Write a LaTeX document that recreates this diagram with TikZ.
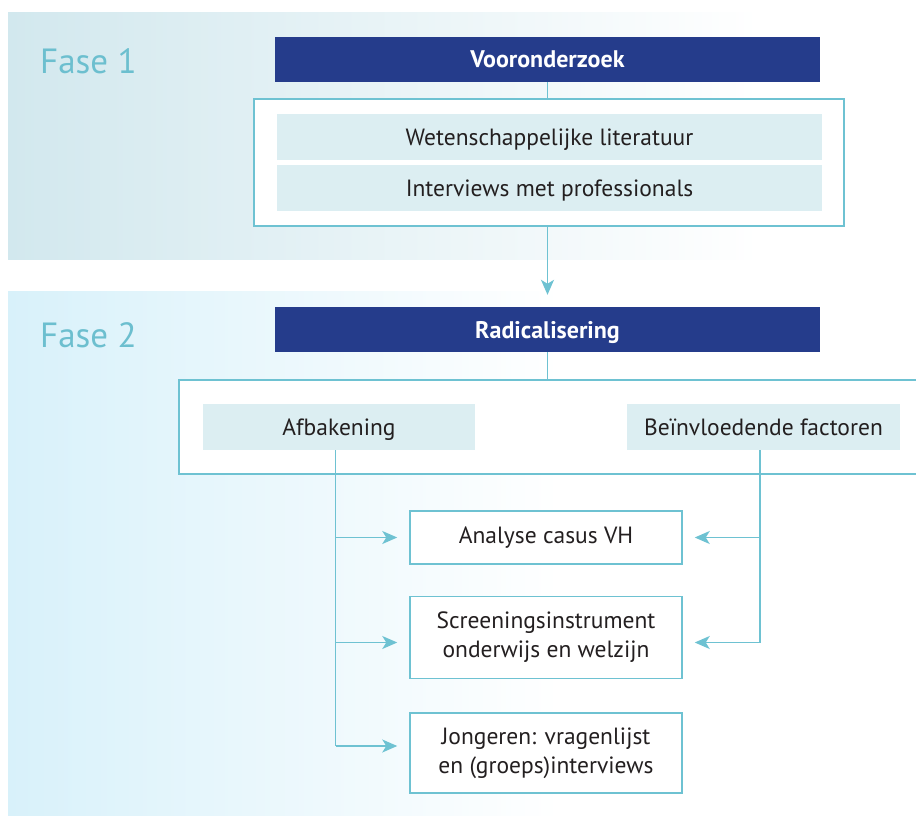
\documentclass[tikz,border=0pt]{standalone}
\usepackage{fontspec}
\setmainfont{PT Sans}
\usetikzlibrary{positioning,arrows.meta}

\definecolor{fasedonker}{RGB}{37,60,139}
\definecolor{faselicht}{RGB}{220,238,242}
\definecolor{faselijn}{RGB}{110,194,210}
\definecolor{fasetekst}{RGB}{108,191,207}
\definecolor{fase1bg}{RGB}{210,232,238}
\definecolor{fase2bg}{RGB}{216,241,250}
\definecolor{tekst}{RGB}{35,31,32}

\tikzset{
  fase/.style={text=fasetekst, font=\fontsize{35}{40}\selectfont, anchor=base west, inner sep=0pt},
  kop/.style={fill=fasedonker, text=white, font=\fontsize{24}{28}\selectfont\bfseries,
    minimum width=545pt, minimum height=45pt, inner sep=0pt, text height=17pt, text depth=0pt},
  item/.style={fill=faselicht, text=tekst, font=\fontsize{23.5}{29}\selectfont,
    minimum width=545pt, minimum height=46pt, inner sep=0pt, text height=16pt, text depth=0pt},
  kader/.style={draw=faselijn, line width=1.5pt, fill=white},
  uitkomst/.style={draw=faselijn, line width=1.5pt, fill=white, text=tekst, align=center,
    font=\fontsize{23.5}{29}\selectfont, minimum width=272pt, inner sep=0pt},
  lijn/.style={draw=faselijn, line width=1.4pt},
  pijl/.style={lijn, -{Stealth[length=15pt,width=13pt,inset=4pt]}, shorten >=12pt}
}

\begin{document}
\begin{tikzpicture}[x=1pt, y=-1pt, node distance=5pt]
  \useasboundingbox (0,0) rectangle (916,816);
  % Achtergrond
  \fill[white] (0,0) rectangle (916,816);
  \shade[left color=fase1bg, right color=white] (8,13) rectangle (760,259);
  \shade[left color=fase2bg, right color=white] (8,291) rectangle (560,816);

  % Fase 1
  \node[fase] (f1) at (40,74) {Fase 1};
  \node[kop] (voor) at (547.5,59.5) {Vooronderzoek};
  \node[kader, minimum width=590pt, minimum height=127pt] (k1) at (549,162.5) {};
  \node[item] (wet) at (549.5,137) {Wetenschappelijke literatuur};
  \node[item, below=5pt of wet] (int) {Interviews met professionals};

  % Fase 2
  \node[fase] (f2) at (40,347) {Fase 2};
  \node[kop] (rad) at (547.5,329.5) {Radicalisering};
  \node[kader, minimum width=760pt, minimum height=94pt, anchor=west] (k2) at (178,427) {};
  \node[item, minimum width=272pt] (afb) at (339,427) {Afbakening};
  \node[item, minimum width=273pt] (bein) at (763.5,427) {Beïnvloedende factoren};
  \node[uitkomst, minimum height=53pt] (ana) at (546,537.5) {Analyse casus VH};
  \node[uitkomst, minimum height=82pt, below=31pt of ana] (scr) {Screeningsinstrument\\onderwijs en welzijn};
  \node[uitkomst, minimum height=80pt, below=33pt of scr] (jon) {Jongeren: vragenlijst\\en (groeps)interviews};
  \coordinate (afbv) at ([xshift=-3.5pt]afb.south);
  \coordinate (beinv) at ([xshift=-3.5pt]bein.south);

  % Verbindingen
  \draw[lijn] (voor) -- (voor |- k1.north);
  \draw[pijl] (voor |- k1.south) -- (rad);
  \draw[lijn] (rad) -- (rad |- k2.north);
  \draw[lijn] (afbv) -- ([yshift=7pt]afbv |- jon);
  \foreach \doel/\dy in {ana/0,scr/-5,jon/7}
    \draw[pijl] ([yshift=\dy pt]afbv |- \doel) -- ([yshift=\dy pt]\doel.west);
  \draw[lijn] (beinv) -- ([yshift=-5pt]beinv |- scr);
  \foreach \doel/\dy in {ana/0,scr/-5}
    \draw[pijl] ([yshift=\dy pt]beinv |- \doel) -- ([yshift=\dy pt]\doel.east);
\end{tikzpicture}
\end{document}
